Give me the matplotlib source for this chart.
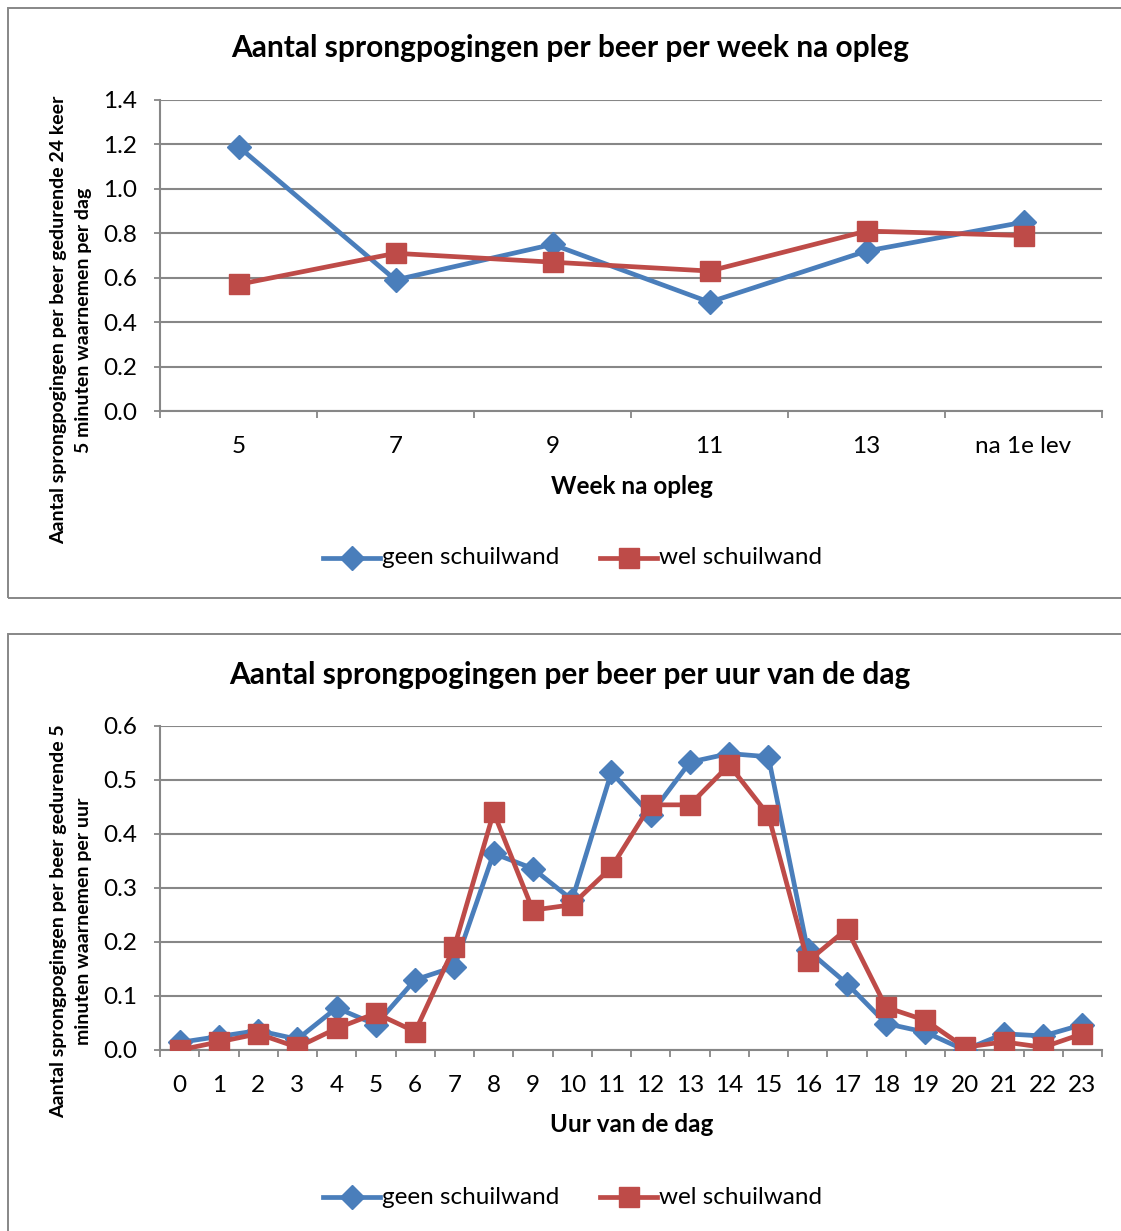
import matplotlib
matplotlib.use('Agg')
import matplotlib.pyplot as plt
from matplotlib.patches import Rectangle

plt.rcParams['font.family'] = ['Lato', 'DejaVu Sans']

# week data
weeks = ['5', '7', '9', '11', '13', 'na 1e lev']
week_geen = [1.19, 0.59, 0.75, 0.49, 0.72, 0.85]
week_wel = [0.57, 0.71, 0.67, 0.63, 0.81, 0.79]

# hour of day data
hours = [str(h) for h in range(24)]
uur_geen = [0.014, 0.025, 0.036, 0.02, 0.078, 0.047, 0.13, 0.154,
            0.364, 0.336, 0.278, 0.514, 0.436, 0.533, 0.549, 0.543,
            0.185, 0.123, 0.049, 0.033, 0.0, 0.03, 0.026, 0.047]
uur_wel = [0.0, 0.015, 0.03, 0.005, 0.04, 0.068, 0.034, 0.191,
           0.44, 0.259, 0.269, 0.338, 0.454, 0.454, 0.528, 0.435,
           0.164, 0.224, 0.079, 0.055, 0.005, 0.015, 0.005, 0.03]

BLUE = '#4a7ebb'
RED = '#be4b48'
GRID = '#878787'

W, H = 1121, 1231
fig = plt.figure(figsize=(W / 100, H / 100), dpi=100)


def px(x0, y0, x1, y1):
    # pixel box (top-left origin) -> figure fraction rect
    return [x0 / W, 1 - y1 / H, (x1 - x0) / W, (y1 - y0) / H]


def fx(x):
    return x / W


def fy(y):
    return 1 - y / H


def frame(x0, y0, x1, y1):
    r = Rectangle((fx(x0), fy(y1)), fx(x1) - fx(x0), fy(y0) - fy(y1),
                  transform=fig.transFigure, fill=False,
                  edgecolor=GRID, linewidth=1.4)
    fig.add_artist(r)


def chart(box, labels, geen, wel, ymax, ystep, yfmt, title, xlabel, ylabel,
          title_y, xlabel_y, ylabel_y, legend_y, tickpad):
    ax = fig.add_axes(px(*box))
    x = range(len(labels))
    ax.plot(x, geen, color=BLUE, lw=3.4, marker='D', ms=12, zorder=3)
    ax.plot(x, wel, color=RED, lw=3.4, marker='s', ms=14, zorder=4)
    ax.set_xlim(-0.5, len(labels) - 0.5)
    ax.set_ylim(0, ymax)
    yt = [i * ystep for i in range(int(round(ymax / ystep)) + 1)]
    ax.set_yticks(yt)
    ax.set_yticklabels([yfmt % v for v in yt], fontsize=17.5)
    ax.set_xticks([i - 0.5 for i in range(len(labels) + 1)])
    ax.set_xticklabels([])
    ax.set_xticks(list(x), minor=True)
    ax.set_xticklabels(labels, minor=True, fontsize=17.5)
    ax.tick_params(axis='x', which='major', length=5, color=GRID, width=1.3)
    ax.tick_params(axis='x', which='minor', length=0, pad=tickpad)
    ax.tick_params(axis='y', length=4.5, color=GRID, width=1.3, pad=12)
    ax.grid(axis='y', color=GRID, lw=1.5)
    ax.set_axisbelow(True)
    for s in ('top', 'right'):
        ax.spines[s].set_visible(False)
    for s in ('left', 'bottom'):
        ax.spines[s].set_color(GRID)
        ax.spines[s].set_linewidth(1.5)

    fig.text(fx(570), fy(title_y), title, ha='center', va='center',
             fontsize=21.5, fontweight='bold')
    fig.text(fx(632), fy(xlabel_y), xlabel, ha='center', va='center',
             fontsize=17.5, fontweight='bold')
    fig.text(fx(71), fy(ylabel_y), ylabel, ha='center', va='center',
             rotation=90, fontsize=14, fontweight='bold',
             multialignment='center', linespacing=1.5)

    # legend drawn as line+marker pairs
    for x0, x1, col, mk, ms, txt in [(323, 380, BLUE, 'D', 12, 'geen schuilwand'),
                                     (600, 657, RED, 's', 14, 'wel schuilwand')]:
        fig.add_artist(plt.Line2D([fx(x0), fx(x1)], [fy(legend_y)] * 2,
                                  transform=fig.transFigure, color=col, lw=3.4))
        fig.add_artist(plt.Line2D([fx((x0 + x1) / 2)], [fy(legend_y)],
                                  transform=fig.transFigure, color=col,
                                  marker=mk, ms=ms))
        fig.text(fx(x1 + 2), fy(legend_y), txt, ha='left', va='center',
                 fontsize=17.5)
    return ax


frame(8, 8, W + 5, 598)
frame(8, 634, W + 5, H + 5)

chart((160, 100, 1102, 411), weeks, week_geen, week_wel, 1.4, 0.2, '%.1f',
      'Aantal sprongpogingen per beer per week na opleg', 'Week na opleg',
      'Aantal sprongpogingen per beer gedurende 24 keer\n5 minuten waarnemen per dag',
      48, 486, 320, 558, 18)

chart((160, 726, 1102, 1050), hours, uur_geen, uur_wel, 0.6, 0.1, '%.1f',
      'Aantal sprongpogingen per beer per uur van de dag', 'Uur van de dag',
      'Aantal sprongpogingen per beer gedurende 5\nminuten waarnemen per uur',
      675, 1125, 921, 1197, 18)

fig.savefig('out.png', dpi=100)
